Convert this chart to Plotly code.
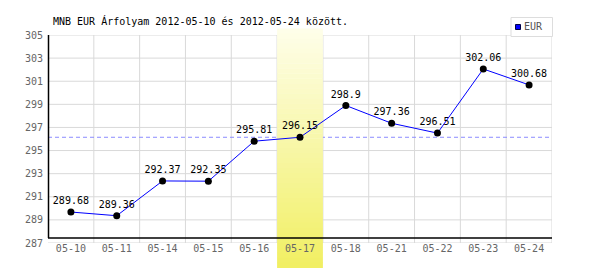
import plotly.graph_objects as go

# ---- data ----
dates = ["05-10", "05-11", "05-14", "05-15", "05-16", "05-17",
         "05-18", "05-21", "05-22", "05-23", "05-24"]
eur_rates = [289.68, 289.36, 292.37, 292.35, 295.81, 296.15,
             298.9, 297.36, 296.51, 302.06, 300.68]
highlight_date = "05-17"
y_ticks = [287, 289, 291, 293, 295, 297, 299, 301, 303, 305]
title_text = "MNB EUR Árfolyam 2012-05-10 és 2012-05-24 között."
series_name = "EUR"

# ---- styles ----
FONT = "DejaVu Sans Mono"
GRID = "#d9d9d9"
W, H = 600, 270
ML, MR, MT, MB = 48, 48, 35, 27

hi_idx = dates.index(highlight_date)
hi_val = eur_rates[hi_idx]
n = len(dates)
ymin, ymax = min(y_ticks), max(y_ticks)
plot_w = W - ML - MR
plot_h = H - MT - MB


def px_x(px):
    return (px - ML) / plot_w


def px_y(py):
    return (H - MB - py) / plot_h


shapes = []
# horizontal grid
for t in y_ticks:
    shapes.append(dict(type="line", xref="paper", yref="y", x0=0, x1=1, y0=t, y1=t,
                       line=dict(color=GRID, width=1), layer="below"))
# vertical grid at category boundaries
for i in range(n):
    shapes.append(dict(type="line", xref="x", yref="paper", x0=i + 0.5, x1=i + 0.5,
                       y0=0, y1=1, line=dict(color=GRID, width=1), layer="below"))
# dashed reference line at highlighted day value
shapes.append(dict(type="line", xref="paper", yref="y", x0=0, x1=1, y0=hi_val, y1=hi_val,
                   line=dict(color="#8c8cff", width=1, dash="4px,3px"), layer="below"))
# gradient highlight band (stacked strips)
top_p = px_y(29)
bot_p = px_y(268)
c_top = (254, 254, 234)
c_bot = (241, 239, 98)
N = 48
for k in range(N):
    f0 = k / N
    f1 = (k + 1) / N
    fm = (k + 0.5) / N
    col = tuple(round(c_top[j] + (c_bot[j] - c_top[j]) * fm) for j in range(3))
    shapes.append(dict(type="rect", xref="x", yref="paper",
                       x0=hi_idx - 0.5, x1=hi_idx + 0.5,
                       y0=top_p - (top_p - bot_p) * f1, y1=top_p - (top_p - bot_p) * f0 + 0.002,
                       fillcolor="rgb(%d,%d,%d)" % col, line=dict(width=0), layer="below"))
# black axis lines
ax_y = px_y(238)
shapes.append(dict(type="line", xref="paper", yref="paper", x0=0, x1=1, y0=ax_y, y1=ax_y,
                   line=dict(color="black", width=1.5), layer="below"))
shapes.append(dict(type="line", xref="paper", yref="paper", x0=0.001, x1=0.001, y0=ax_y, y1=1,
                   line=dict(color="black", width=1.5), layer="below"))
# legend box and key
shapes.append(dict(type="rect", xref="paper", yref="paper",
                   x0=px_x(511), x1=px_x(552.5), y0=px_y(36.5), y1=px_y(17.5),
                   fillcolor="white", line=dict(color="#dddddd", width=1), layer="above"))
shapes.append(dict(type="rect", xref="paper", yref="paper",
                   x0=px_x(515.5), x1=px_x(520.5), y0=px_y(29.5), y1=px_y(24.5),
                   fillcolor="#0000ff", line=dict(color="#000044", width=1), layer="above"))

fig = go.Figure()
fig.add_trace(go.Scatter(
    x=list(range(n)), y=eur_rates, mode="lines+markers+text",
    text=[str(v) for v in eur_rates], textposition="top center",
    textfont=dict(family=FONT, size=10, color="black"),
    line=dict(color="#0000ff", width=1),
    marker=dict(color="black", size=7),
    showlegend=False, cliponaxis=False, name=series_name,
))

fig.add_annotation(text=series_name, xref="paper", yref="paper",
                   x=px_x(522), y=px_y(27), xanchor="left", yanchor="middle",
                   showarrow=False, font=dict(family=FONT, size=10, color="#555555"))

fig.update_layout(
    width=W, height=H,
    margin=dict(l=ML, r=MR, t=MT, b=MB, pad=0),
    paper_bgcolor="white", plot_bgcolor="white",
    shapes=shapes,
    title=dict(text=title_text, x=px_x(53), xref="paper", xanchor="left",
               y=1 - 21 / H, yref="container", yanchor="middle",
               font=dict(family=FONT, size=10, color="black")),
    xaxis=dict(range=[-0.5, n - 0.5], tickvals=list(range(n)), ticktext=dates,
               showgrid=False, zeroline=False, showline=False, ticks="",
               tickfont=dict(family=FONT, size=10, color="#666666"),
               ticklabelstandoff=-2, fixedrange=True),
    yaxis=dict(range=[ymin, ymax], tickvals=y_ticks, showgrid=False, zeroline=False,
               showline=False, ticks="", ticklabelstandoff=4,
               tickfont=dict(family=FONT, size=10, color="#666666"), fixedrange=True),
    showlegend=False,
)

fig.write_html("out.html")
